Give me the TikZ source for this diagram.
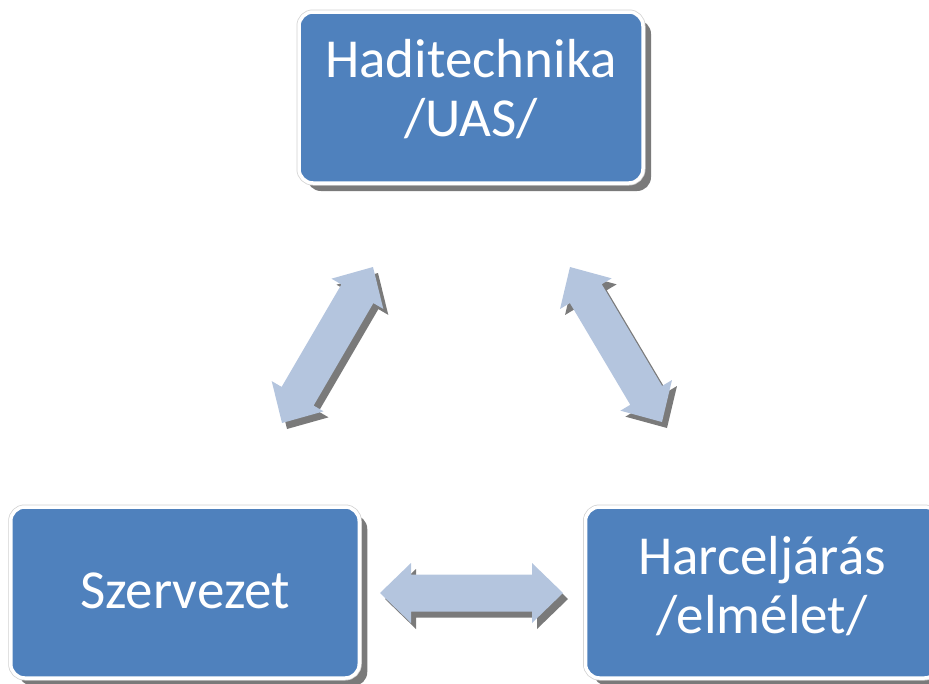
\documentclass[tikz,border=0pt]{standalone}
\usepackage{fontspec}
\setmainfont{Carlito}
\usetikzlibrary{calc,shadows}
\definecolor{boxblue}{RGB}{79,129,189}
\definecolor{arrowblue}{RGB}{180,197,222}
\definecolor{shadowgray}{RGB}{122,122,122}
\tikzset{
  box/.style={draw=white, line width=3.5pt, fill=boxblue, rounded corners=14pt,
    minimum height=171pt, inner sep=0pt,
    drop shadow={shadow xshift=8pt, shadow yshift=-8pt, fill=shadowgray, opacity=1},
    preaction={draw=black!18, line width=5pt}},
  boxtext/.style={text=white, font=\fontsize{55}{59}\selectfont, align=center, inner sep=0pt},
  blockarrow/.style={fill=arrowblue,
    drop shadow={shadow xshift=5pt, shadow yshift=-6pt, fill=shadowgray, opacity=1}}
}
\def\ahl{31pt}
\def\ahw{30pt}
\def\asw{18.5pt}
% double block arrow between two named tip coordinates
\newcommand\dblarrow[2]{%
  \fill[blockarrow] (#2)
    -- ($(#2)!\ahl!(#1)!\ahw!90:(#1)$)
    -- ($(#2)!\ahl!(#1)!\asw!90:(#1)$)
    -- ($(#1)!\ahl!(#2)!\asw!-90:(#2)$)
    -- ($(#1)!\ahl!(#2)!\ahw!-90:(#2)$)
    -- (#1)
    -- ($(#1)!\ahl!(#2)!\ahw!90:(#2)$)
    -- ($(#1)!\ahl!(#2)!\asw!90:(#2)$)
    -- ($(#2)!\ahl!(#1)!\asw!-90:(#1)$)
    -- ($(#2)!\ahl!(#1)!\ahw!-90:(#1)$)
    -- cycle;}
\begin{document}
\begin{tikzpicture}[x=1pt,y=-1pt]
\useasboundingbox (0,0) rectangle (929,683);
% boxes
\node[box, minimum width=344pt] (tech) at (471,97.5) {};
\node[box, minimum width=348.5pt] (szerv) at (185,592.5) {};
\node[box, minimum width=353pt] (harc) at (762,592.5) {};
% texts
\node[boxtext] (techtext) at ($(tech.center)+(0,-8)$) {Haditechnika\\/UAS/};
\node[boxtext] (szervtext) at ($(szerv.center)+(0,-2)$) {Szervezet};
\node[boxtext] (harctext) at ($(harc.center)+(0,-6)$) {Harceljárás\\/elmélet/};
% arrow tips
\coordinate (l1) at (282,423);
\coordinate (l2) at (373,267);
\coordinate (r1) at (570,267);
\coordinate (r2) at (662,422);
\coordinate (b1) at (380,593);
\coordinate (b2) at (563,593);
\dblarrow{l1}{l2}
\dblarrow{r1}{r2}
\dblarrow{b1}{b2}
\end{tikzpicture}
\end{document}
